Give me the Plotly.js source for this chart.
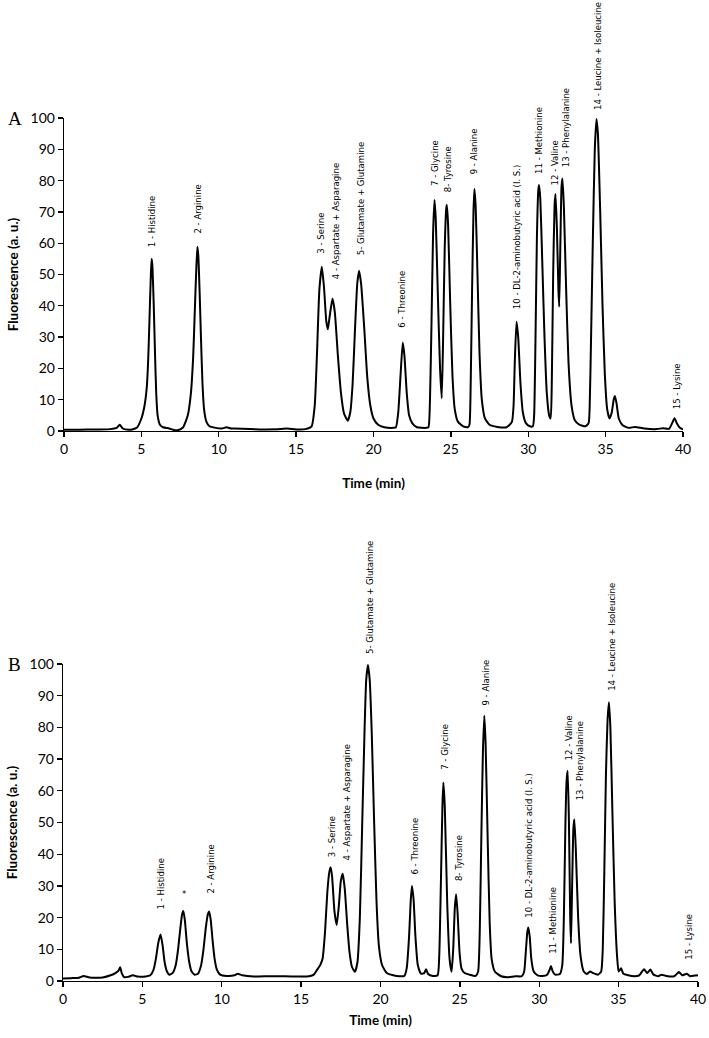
<!DOCTYPE html>
<html>
<head>
<meta charset="utf-8">
<script src="https://cdn.plot.ly/plotly-3.0.1.min.js"></script>
<style>html,body{margin:0;padding:0;background:#fff;}#chart{width:709px;height:1038px;}</style>
</head>
<body>
<div id="chart"></div>
<script>
// ---------- Panel A chromatogram (time in min, fluorescence in a.u.) ----------
const timeA = [0,1,2,3,3.4,3.6,3.8,4.2,4.4,4.7,5.0,5.2,5.35,5.45,5.55,5.62,5.67,5.72,5.8,5.88,5.96,6.05,6.2,6.4,6.8,7.1,
  7.4,7.7,8.0,8.2,8.35,8.45,8.55,8.62,8.68,8.76,8.85,8.95,9.05,9.2,9.4,9.8,10.2,10.5,10.8,11,12,13,14,14.4,15,15.6,
  16.0,16.2,16.35,16.5,16.66,16.8,16.95,17.05,17.15,17.35,17.5,17.7,17.9,18.1,18.34,18.5,18.65,18.8,18.95,19.07,19.2,19.4,19.6,19.8,20.0,20.3,20.7,21.3,
  21.45,21.6,21.75,21.89,22.0,22.15,22.3,22.5,22.8,23.4,
  23.55,23.65,23.75,23.85,23.94,24.02,24.15,24.3,24.41,24.5,24.6,24.7,24.74,24.82,24.95,25.1,25.25,25.45,25.8,26.1,
  26.2,26.28,26.37,26.46,26.52,26.6,26.72,26.85,27.0,27.2,27.5,28.0,28.6,28.8,28.95,
  29.05,29.13,29.24,29.35,29.5,29.65,29.85,30.1,30.3,
  30.38,30.47,30.56,30.65,30.7,30.78,30.9,31.05,31.2,31.35,31.45,
  31.52,31.61,31.7,31.76,31.85,31.95,32.0,32.07,32.15,32.21,32.3,32.45,32.6,32.8,33.0,33.3,33.7,33.9,
  33.97,34.06,34.17,34.3,34.41,34.5,34.65,34.8,34.95,35.1,35.25,35.4,35.52,35.6,35.7,35.85,36.1,36.5,36.9,37.5,38.3,38.7,39.1,39.3,39.45,39.6,39.8,40];
const fluorA = [0.4,0.4,0.5,0.6,1.0,2.0,0.8,0.4,0.5,1.0,4,8,14,24,40,51,55,52,40,25,12,5,2,1.2,0.8,0.3,
  0.3,1.2,5,12,24,38,52,58.9,56,45,30,15,7,3,1.5,1.0,0.8,1.2,0.8,0.8,0.6,0.5,0.6,0.8,0.5,0.6,
  1.5,8,25,45,52.5,46,35,32.5,36,42.3,38,24,12,5.5,3.3,6,15,32,47,51.2,47,33,17,8,4,2,1.2,1.0,
  1.2,6,18,28.3,24,12,5,2.5,1.2,1.0,
  1.2,10,35,63,73.8,68,45,20,10.5,30,58,71,72.2,66,42,18,7,3,1.5,1.2,
  2,15,45,70,77.3,72,50,25,10,4,2,1.3,1.2,2,3,
  8,22,34.9,30,15,6,2.5,1.5,1.5,
  5,30,62,77,78.6,74,55,30,12,5,4,
  15,50,72,75.7,65,45,39.7,58,78,80.7,72,45,22,8,3.5,2,1.5,2.5,
  8,30,60,90,99.7,95,70,40,18,7,4,6,10,11.2,9,4,1.8,1.0,1.3,0.8,0.6,0.9,0.7,2.5,4.1,2.5,1.0,0.5];

// ---------- Panel B chromatogram ----------
const timeB = [0,0.5,1.0,1.3,1.6,2.0,2.5,3.0,3.3,3.5,3.6,3.7,3.85,4.1,4.4,4.7,5.2,5.5,5.7,5.85,6.0,6.15,6.28,6.4,6.55,6.7,
  6.9,7.1,7.25,7.4,7.5,7.58,7.68,7.8,7.95,8.1,8.3,8.5,8.7,8.85,9.0,9.12,9.2,9.3,9.42,9.55,9.7,9.9,10.3,10.8,11.0,11.3,12,13,14,15,15.5,
  15.8,16.0,16.2,16.35,16.5,16.65,16.78,16.86,16.95,17.1,17.24,17.38,17.5,17.62,17.75,17.9,18.05,18.2,18.39,18.55,18.7,18.85,19.0,19.1,19.21,19.32,19.45,19.6,19.75,19.9,20.1,20.4,20.8,21.2,
  21.5,21.65,21.8,21.9,21.98,22.08,22.2,22.35,22.55,22.75,22.87,23.0,23.3,23.6,
  23.7,23.8,23.9,23.96,24.05,24.2,24.35,24.48,24.58,24.68,24.76,24.85,24.98,25.1,25.3,25.6,26.0,
  26.15,26.25,26.35,26.45,26.54,26.62,26.75,26.88,27.0,27.2,27.6,28.0,28.5,28.9,
  29.05,29.15,29.25,29.31,29.4,29.5,29.65,29.9,30.2,30.5,30.65,30.74,30.85,31.0,31.3,
  31.45,31.55,31.65,31.72,31.79,31.87,31.95,32.0,32.07,32.15,32.21,32.3,32.45,32.6,32.8,33.0,33.2,33.4,33.7,33.9,
  34.0,34.1,34.2,34.3,34.39,34.48,34.6,34.75,34.9,35.0,35.15,35.3,35.6,36.0,36.3,36.6,36.8,37.0,37.2,37.5,37.7,38.0,38.5,38.8,39.0,39.3,39.5,39.8,40];
const fluorB = [0.8,0.9,1.0,1.6,1.2,1.0,1.1,1.8,2.5,3.3,4.3,2.5,1.2,1.3,1.8,1.4,1.4,1.8,3.5,7,12,14.7,11,6,3,2,
  2.5,5,10,17,21,22.1,19,12,6,3,2,2.3,5,10,17,21,21.9,19.5,13,7,3.5,2,1.6,1.8,2.3,1.8,1.4,1.5,1.5,1.4,1.5,
  2,3.5,5,7,15,28,34.5,35.9,33,22,17.7,24,31.5,33.8,29,18,9,4.5,2.9,6,20,50,80,95,99.7,95,78,50,25,11,5,2.5,1.8,1.5,
  1.6,4,14,25,30,26,14,5,2.3,2.5,3.7,2.2,1.6,1.8,
  8,30,55,62.6,55,25,7,2.9,10,23,27.4,22,9,4,2.5,2,1.6,
  3,15,45,72,83.7,75,45,18,7,3,1.5,1.2,1.5,1.5,
  3,9,15.5,16.9,14,7,3,1.8,1.6,2.0,3.5,4.7,3,2,2.2,
  5,20,50,63,66.3,50,20,11.9,30,48,51,42,20,8,3,2.2,3,2.5,2,3,
  10,35,65,82,87.9,80,55,25,8,3,4,2.3,1.8,1.5,1.8,3.7,2.5,3.6,2.0,1.5,2.0,1.6,1.5,2.8,1.8,2.3,1.5,1.7,1.8];

// ---------- Peak labels ----------
const labelsA = ["1 - Histidine","2 - Arginine","3 - Serine","4 - Aspartate + Asparagine","5- Glutamate + Glutamine",
  "6 - Threonine","7 - Glycine","8- Tyrosine","9 - Alanine","10 - DL-2-aminobutyric acid (I. S.)","11 - Methionine",
  "12 - Valine","13 - Phenylalanine","14 - Leucine + Isoleucine","15 - Lysine"];
const labelTimeA = [5.67,8.66,16.55,17.52,19.13,21.83,23.98,24.78,26.52,29.26,30.66,31.67,32.4,34.43,39.56];
const labelBaseA = [58.5,62.6,56.2,48.2,55.7,32.8,78,76.1,81.8,38.7,81.8,78,83.9,102.2,6.7];

const labelsB = ["1 - Histidine","*","2 - Arginine","3 - Serine","4 - Aspartate + Asparagine","5- Glutamate + Glutamine",
  "6 - Threonine","7 - Glycine","8- Tyrosine","9 - Alanine","10 - DL-2-aminobutyric acid (I. S.)","11 - Methionine",
  "12 - Valine","13 - Phenylalanine","14 - Leucine + Isoleucine","15 - Lysine"];
const labelTimeB = [6.17,7.64,9.32,16.88,17.87,19.3,22.17,24.06,24.9,26.63,29.35,30.82,31.83,32.52,34.56,39.35];
const labelBaseB = [22.4,27.5,27.4,38.9,37.6,102.8,33.4,66.3,31.3,86.5,19.8,8.2,69.2,56.6,91.1,6.3];

const xTicks = [0,5,10,15,20,25,30,35,40];
const yTicks = [0,10,20,30,40,50,60,70,80,90,100];

const tickFont = {family:"Lato, 'Open Sans', sans-serif", size:14, color:"#000"};
const titleFont = {family:"Lato, 'Open Sans', sans-serif", size:13.5, color:"#000", weight:"bold"};
const labFont = {family:"'Liberation Sans Narrow', 'DejaVu Sans Condensed', sans-serif", size:9.5, color:"#000"};

const H = 1038, W = 709;
const domA = [1-431/H, 1-118/H], domB = [1-981/H, 1-664/H];

function mkX(domain, anchor, standoff){
  return {domain:domain, anchor:anchor, range:[0,40], tickvals:xTicks, ticktext:xTicks.map(String),
    showgrid:false, zeroline:false, showline:true, linecolor:"#000", linewidth:1.3,
    ticks:"outside", ticklen:5, tickwidth:1.3, tickcolor:"#000", tickfont:tickFont,
    title:{text:"Time (min)", font:titleFont, standoff:standoff}, automargin:false, fixedrange:true};
}
function mkY(domain, anchor){
  return {domain:domain, anchor:anchor, range:[0,100], tickvals:yTicks, ticktext:yTicks.map(String),
    showgrid:false, zeroline:false, showline:true, linecolor:"#000", linewidth:1.3,
    ticks:"outside", ticklen:5, tickwidth:1.3, tickcolor:"#000", tickfont:tickFont,
    title:{text:"Fluorescence (a. u.)", font:titleFont, standoff:8}, automargin:false, fixedrange:true};
}

const lineStyle = {color:"#000", width:2, shape:"spline", smoothing:0.5};
const traces = [
  {x:timeA, y:fluorA, xaxis:"x", yaxis:"y", type:"scatter", mode:"lines", line:lineStyle, hoverinfo:"skip"},
  {x:timeB, y:fluorB, xaxis:"x2", yaxis:"y2", type:"scatter", mode:"lines", line:lineStyle, hoverinfo:"skip"}
];

// annotations whose base lies above the y range are pinned to the top edge and shifted in pixels
function pushLabel(arr, text, t, base, xr, yr, dom){
  const pxPerUnit = (dom[1]-dom[0])*H/100;
  const over = Math.max(0, base-100);
  const star = text === "*";
  arr.push({x:t, y:Math.min(base,100), yshift:over*pxPerUnit, xref:xr, yref:yr, text:text, showarrow:false,
    textangle:star?0:-90, xanchor:"center", yanchor:star?"middle":"bottom", font:labFont, borderpad:0});
}
const annotations = [];
labelsA.forEach((t,i)=>pushLabel(annotations, t, labelTimeA[i], labelBaseA[i], "x", "y", domA));
labelsB.forEach((t,i)=>pushLabel(annotations, t, labelTimeB[i], labelBaseB[i], "x2", "y2", domB));
annotations.push({x:0.0, y:domA[1], xref:"paper", yref:"paper", text:"A", showarrow:false, xanchor:"left", yanchor:"middle", xshift:6,
  font:{family:"'Liberation Serif', 'DejaVu Serif', serif", size:19, color:"#000"}});
annotations.push({x:0.0, y:domB[1], xref:"paper", yref:"paper", text:"B", showarrow:false, xanchor:"left", yanchor:"middle", xshift:6,
  font:{family:"'Liberation Serif', 'DejaVu Serif', serif", size:19, color:"#000"}});

const layout = {
  width:W, height:H, margin:{l:0,r:0,t:0,b:0}, paper_bgcolor:"#fff", plot_bgcolor:"#fff", showlegend:false,
  xaxis: mkX([64/W, 683/W], "y", 22),
  yaxis: mkY(domA, "x"),
  xaxis2: mkX([63/W, 698/W], "y2", 9),
  yaxis2: mkY(domB, "x2"),
  annotations: annotations
};

Plotly.newPlot("chart", traces, layout, {staticPlot:true, displayModeBar:false});
</script>
</body>
</html>
